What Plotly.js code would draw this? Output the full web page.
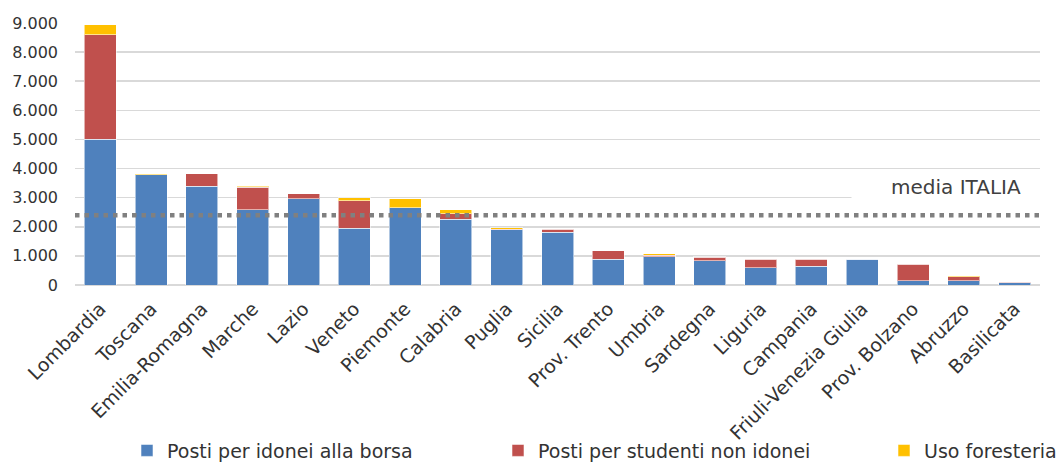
<!DOCTYPE html>
<html>
<head>
<meta charset="utf-8">
<script src="https://cdn.plot.ly/plotly-3.0.1.min.js"></script>
<style>html,body{margin:0;padding:0;background:#fff;overflow:hidden;}#chart{width:1060px;height:464px;}</style>
</head>
<body>
<div id="chart"></div>
<script>
const categories = ["Lombardia","Toscana","Emilia-Romagna","Marche","Lazio","Veneto","Piemonte","Calabria","Puglia","Sicilia","Prov. Trento","Umbria","Sardegna","Liguria","Campania","Friuli-Venezia Giulia","Prov. Bolzano","Abruzzo","Basilicata"];
const postiIdonei = [5000,3790,3390,2580,2970,1950,2650,2260,1890,1820,880,970,830,600,640,880,140,140,80];
const postiNonIdonei = [3590,0,430,780,160,950,0,180,20,90,290,50,120,280,250,0,580,150,20];
const usoForesteria = [350,40,0,40,0,90,320,140,50,10,0,50,20,20,0,0,0,20,10];
const seriesNames = ["Posti per idonei alla borsa","Posti per studenti non idonei","Uso foresteria"];
const mediaItalia = 2400;
const mediaLabel = "media ITALIA";
const yTicks = [0,1000,2000,3000,4000,5000,6000,7000,8000,9000];

const FONT = "DejaVu Sans, sans-serif";
const outline = {width:1, color:"rgba(255,255,255,0.55)"};
const traces = [
  {type:"bar", name:seriesNames[0], x:categories, y:postiIdonei, marker:{color:"#4F81BD", line:outline}, legend:"legend"},
  {type:"bar", name:seriesNames[1], x:categories, y:postiNonIdonei, marker:{color:"#C0504D", line:outline}, legend:"legend2"},
  {type:"bar", name:seriesNames[2], x:categories, y:usoForesteria, marker:{color:"#FFC000", line:outline}, legend:"legend3"}
];

function leg(x){
  return {orientation:"h", xref:"container", yref:"container", x:x, xanchor:"left",
          y:0.029, yanchor:"middle", font:{size:19, color:"#333", family:FONT},
          bgcolor:"rgba(0,0,0,0)", borderwidth:0};
}

const layout = {
  width:1060, height:464,
  margin:{l:75, r:20, t:23, b:179},
  paper_bgcolor:"#fff", plot_bgcolor:"#fff",
  barmode:"stack", bargap:0.37,
  separators:",.",
  font:{family:FONT, color:"#333", size:16},
  showlegend:true,
  legend:leg(127/1060),
  legend2:leg(498/1060),
  legend3:leg(884/1060),
  xaxis:{type:"category", tickangle:-45, tickfont:{size:19, color:"#333"}, automargin:false,
         showgrid:false, showline:false, ticks:"", ticklabelstandoff:8, fixedrange:true},
  yaxis:{range:[0,9000], tickvals:yTicks, tickformat:",.0f", tickfont:{size:16, color:"#333"},
         automargin:false,
         showgrid:true, gridcolor:"#D9D9D9", gridwidth:1.5, zeroline:true, zerolinecolor:"#D9D9D9",
         zerolinewidth:1.5, showline:false, ticks:"", ticklabelstandoff:16, fixedrange:true},
  shapes:[{type:"line", xref:"paper", x0:0, x1:1, yref:"y", y0:mediaItalia, y1:mediaItalia,
           line:{color:"#808080", width:4.5, dash:"4.5px,5px"}}],
  annotations:[{text:mediaLabel, xref:"paper", yref:"paper", x:0.913, y:0.374,
                xanchor:"center", yanchor:"middle", showarrow:false,
                font:{size:20, color:"#404040", family:FONT}, bgcolor:"#fff",
                width:206, height:24, align:"center"}]
};

Plotly.newPlot("chart", traces, layout, {displayModeBar:false, staticPlot:true});
</script>
</body>
</html>
